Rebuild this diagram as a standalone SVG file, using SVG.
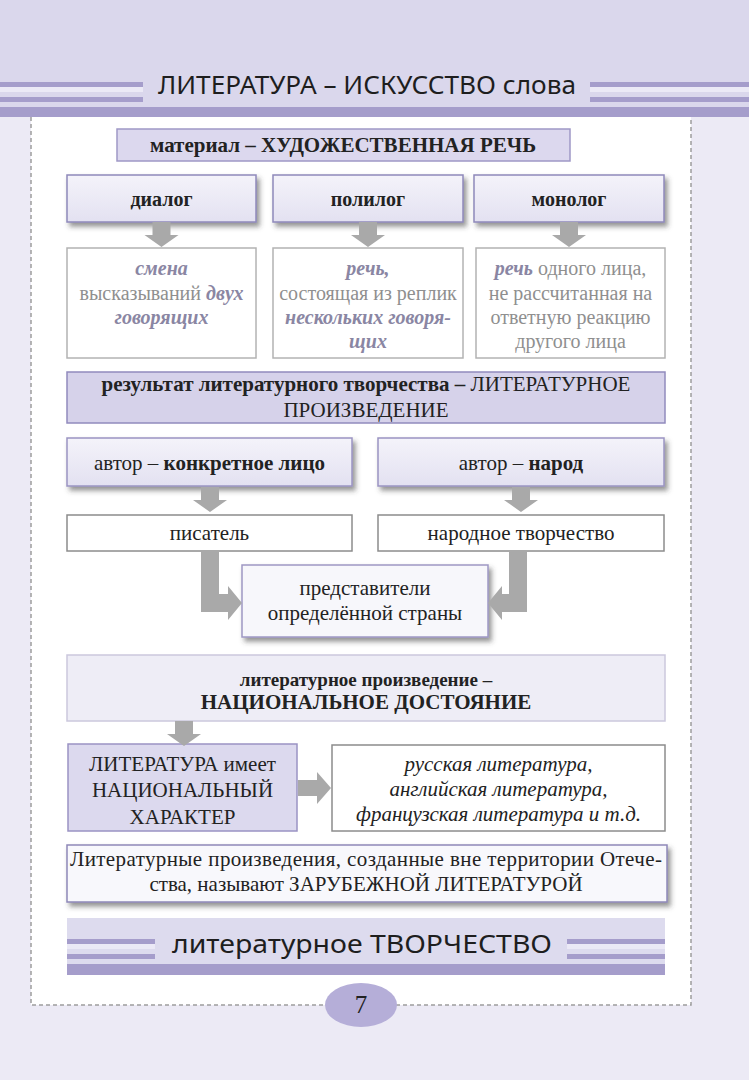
<svg xmlns="http://www.w3.org/2000/svg" width="749" height="1080" viewBox="0 0 749 1080">
<defs>
<style>
.sf{font-family:"Liberation Serif","Times New Roman",serif;fill:#222}
.hd{font-family:"Noto Sans","DejaVu Sans",sans-serif;fill:#1e1e1e}
.b{font-weight:bold}
.it{font-style:italic}
.gray{fill:#8f8f8f}
.gi{fill:#8a86a3;font-style:italic;font-weight:bold}
.arrow{fill:#a9a9a9}
.stripe{fill:#a59dcb}
.light{fill:#ebe9f6}
.shadow{filter:url(#sh)}
</style>
<filter id="sh" x="-10%" y="-20%" width="125%" height="160%">
<feDropShadow dx="3" dy="4" stdDeviation="2.5" flood-color="#404040" flood-opacity="0.55"/>
</filter>
<linearGradient id="lav" x1="0" y1="0" x2="0" y2="1">
<stop offset="0" stop-color="#f4f3fa"/>
<stop offset="1" stop-color="#e3e1f1"/>
</linearGradient>
<path id="down" d="M-9,0 H9 V13 H17 L0,25 L-17,13 H-9 Z"/>
</defs>

<!-- page background -->
<rect x="0" y="0" width="749" height="1080" fill="#eceaf5"/>
<rect x="0" y="0" width="749" height="107" fill="#dad7ec"/>
<rect x="0" y="107" width="749" height="10" class="stripe"/>
<rect x="31" y="117" width="660" height="888" fill="#ffffff"/>
<path d="M31,117 V1005 H691 V117" fill="none" stroke="#9d9d9d" stroke-width="1.5" stroke-dasharray="4 3"/>

<!-- header -->
<g id="header">
<rect x="0" y="82" width="143" height="5" class="stripe"/>
<rect x="0" y="87" width="143" height="5" class="light"/>
<rect x="0" y="97" width="143" height="5" class="stripe"/>
<rect x="590" y="82" width="159" height="5" class="stripe"/>
<rect x="590" y="87" width="159" height="5" class="light"/>
<rect x="590" y="97" width="159" height="5" class="stripe"/>
<text x="158" y="94" class="hd" font-size="26" textLength="418" lengthAdjust="spacingAndGlyphs">ЛИТЕРАТУРА – ИСКУССТВО слова</text>
</g>

<g id="material">
<rect x="117" y="129" width="453" height="32" fill="#dcd8ee" stroke="#9f98c6" stroke-width="1.5"/>
<text x="343" y="152" text-anchor="middle" class="sf b" font-size="21">материал – ХУДОЖЕСТВЕННАЯ  РЕЧЬ</text>
</g>

<g id="dialog">
<rect x="67" y="175" width="189" height="47" fill="url(#lav)" stroke="#8f89ba" stroke-width="1.5" class="shadow"/>
<text x="161.5" y="206" text-anchor="middle" class="sf b" font-size="20">диалог</text>
</g>
<g id="polilog">
<rect x="273" y="175" width="190" height="47" fill="url(#lav)" stroke="#8f89ba" stroke-width="1.5" class="shadow"/>
<text x="368" y="206" text-anchor="middle" class="sf b" font-size="20">полилог</text>
</g>
<g id="monolog">
<rect x="474" y="175" width="190" height="47" fill="url(#lav)" stroke="#8f89ba" stroke-width="1.5" class="shadow"/>
<text x="569" y="206" text-anchor="middle" class="sf b" font-size="20">монолог</text>
</g>

<g id="dialog-desc">
<rect x="67" y="248" width="189" height="110" fill="#ffffff" stroke="#b3b3b3" stroke-width="1.5"/>
<text x="161.5" y="275" text-anchor="middle" class="sf gi" font-size="20">смена</text>
<text x="161.5" y="300" text-anchor="middle" class="sf gray" font-size="20">высказываний <tspan class="gi">двух</tspan></text>
<text x="161.5" y="324" text-anchor="middle" class="sf gi" font-size="20">говорящих</text>
</g>
<g id="polilog-desc">
<rect x="273" y="248" width="190" height="110" fill="#ffffff" stroke="#b3b3b3" stroke-width="1.5"/>
<text x="368" y="275" text-anchor="middle" class="sf gi" font-size="20">речь,</text>
<text x="368" y="300" text-anchor="middle" class="sf gray" font-size="20">состоящая из реплик</text>
<text x="368" y="324" text-anchor="middle" class="sf gi" font-size="20">нескольких говоря-</text>
<text x="368" y="348" text-anchor="middle" class="sf gi" font-size="20">щих</text>
</g>
<g id="monolog-desc">
<rect x="476" y="248" width="189" height="110" fill="#ffffff" stroke="#b3b3b3" stroke-width="1.5"/>
<text x="570.5" y="275" text-anchor="middle" class="sf gray" font-size="20"><tspan class="gi">речь</tspan> одного лица,</text>
<text x="570.5" y="300" text-anchor="middle" class="sf gray" font-size="20">не рассчитанная на</text>
<text x="570.5" y="324" text-anchor="middle" class="sf gray" font-size="20">ответную реакцию</text>
<text x="570.5" y="348" text-anchor="middle" class="sf gray" font-size="20">другого лица</text>
</g>

<g id="result">
<rect x="67" y="372" width="598" height="51" fill="#d6d2ea" stroke="#918bbd" stroke-width="1.5"/>
<text x="366" y="391" text-anchor="middle" class="sf" font-size="21"><tspan class="b">результат литературного творчества –</tspan> ЛИТЕРАТУРНОЕ</text>
<text x="366" y="417" text-anchor="middle" class="sf" font-size="21">ПРОИЗВЕДЕНИЕ</text>
</g>

<g id="author-person">
<rect x="67" y="438" width="285" height="48" fill="url(#lav)" stroke="#9a94c2" stroke-width="1.5" class="shadow"/>
<text x="209.5" y="470" text-anchor="middle" class="sf" font-size="21">автор – <tspan class="b">конкретное лицо</tspan></text>
</g>
<g id="author-people">
<rect x="378" y="438" width="286" height="48" fill="url(#lav)" stroke="#9a94c2" stroke-width="1.5" class="shadow"/>
<text x="521" y="470" text-anchor="middle" class="sf" font-size="21">автор – <tspan class="b">народ</tspan></text>
</g>

<g id="writer">
<rect x="67" y="515" width="285" height="36" fill="#ffffff" stroke="#8c8c8c" stroke-width="1.5"/>
<text x="209.5" y="540" text-anchor="middle" class="sf" font-size="21">писатель</text>
</g>
<g id="folk">
<rect x="378" y="515" width="286" height="36" fill="#ffffff" stroke="#8c8c8c" stroke-width="1.5"/>
<text x="521" y="540" text-anchor="middle" class="sf" font-size="21">народное творчество</text>
</g>

<g id="representatives">
<rect x="242" y="565" width="246" height="72" fill="#f7f7fb" stroke="#9e98c4" stroke-width="1.5" class="shadow"/>
<text x="365" y="595" text-anchor="middle" class="sf" font-size="21">представители</text>
<text x="365" y="620" text-anchor="middle" class="sf" font-size="21">определённой страны</text>
</g>

<g id="heritage">
<rect x="67" y="655" width="598" height="66" fill="#eeedf6" stroke="#cbc8dd" stroke-width="1.5"/>
<text x="366" y="686" text-anchor="middle" class="sf b" font-size="19">литературное  произведение –</text>
<text x="366" y="709" text-anchor="middle" class="sf b" font-size="21">НАЦИОНАЛЬНОЕ  ДОСТОЯНИЕ</text>
</g>

<g id="national">
<rect x="68" y="744" width="229" height="87" fill="#dcd9ee" stroke="#9a93c3" stroke-width="1.5"/>
<text x="182.5" y="771" text-anchor="middle" class="sf" font-size="21">ЛИТЕРАТУРА имеет</text>
<text x="182.5" y="797" text-anchor="middle" class="sf" font-size="21">НАЦИОНАЛЬНЫЙ</text>
<text x="182.5" y="824" text-anchor="middle" class="sf" font-size="21">ХАРАКТЕР</text>
</g>

<g id="examples">
<rect x="332" y="745" width="333" height="86" fill="#ffffff" stroke="#8c8c8c" stroke-width="1.5"/>
<text x="498.5" y="771" text-anchor="middle" class="sf it" font-size="21">русская литература,</text>
<text x="498.5" y="796" text-anchor="middle" class="sf it" font-size="21">английская литература,</text>
<text x="498.5" y="821" text-anchor="middle" class="sf it" font-size="21">французская литература и т.д.</text>
</g>

<g id="foreign">
<rect x="67" y="845" width="600" height="57" fill="#f8f8fc" stroke="#8e88b8" stroke-width="1.5" class="shadow"/>
<text x="70" y="866" class="sf" font-size="21" textLength="592">Литературные произведения, созданные вне территории Отече-</text>
<text x="366" y="891" text-anchor="middle" class="sf" font-size="21">ства, называют ЗАРУБЕЖНОЙ ЛИТЕРАТУРОЙ</text>
</g>

<g id="connectors">
<use href="#down" x="161.5" y="222" class="arrow"/>
<use href="#down" x="368" y="222" class="arrow"/>
<use href="#down" x="569" y="222" class="arrow"/>
<use href="#down" x="210" y="487" class="arrow"/>
<use href="#down" x="521" y="487" class="arrow"/>
<path class="arrow" d="M201,551 H219 V594 H228 V586 L242,603 L228,620 V612 H201 Z"/>
<path class="arrow" d="M509,551 H527 V612 H502 V620 L488,603 L502,586 V594 H509 Z"/>
<use href="#down" x="184" y="721" class="arrow"/>
<path class="arrow" d="M298,780 H317 V772 L331,788 L317,804 V796 H298 Z"/>
</g>

<g id="footer">
<rect x="67" y="918" width="598" height="46" fill="#dddbee"/>
<rect x="67" y="964" width="598" height="11" class="stripe"/>
<rect x="67" y="939" width="88" height="5" class="stripe"/>
<rect x="67" y="944" width="88" height="5" class="light"/>
<rect x="67" y="954" width="88" height="5" class="stripe"/>
<rect x="567" y="939" width="98" height="5" class="stripe"/>
<rect x="567" y="944" width="98" height="5" class="light"/>
<rect x="567" y="954" width="98" height="5" class="stripe"/>
<text x="172" y="953" class="hd" font-size="25" textLength="380" lengthAdjust="spacingAndGlyphs">литературное ТВОРЧЕСТВО</text>
</g>

<g id="page-number">
<ellipse cx="361" cy="1005" rx="36" ry="22" fill="#b5aed8"/>
<text x="361" y="1013" text-anchor="middle" class="sf" font-size="25">7</text>
</g>
</svg>
